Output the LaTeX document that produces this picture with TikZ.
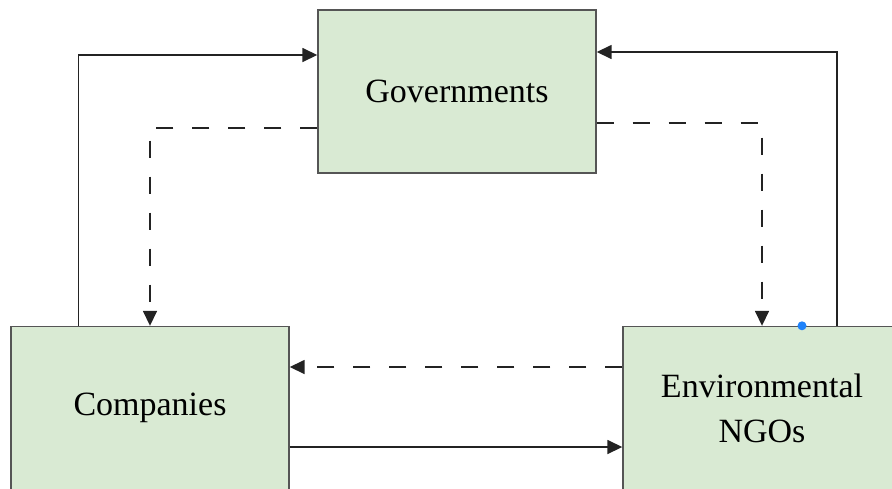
\documentclass[tikz,border=0pt]{standalone}
\usepackage{fontspec}
\setmainfont{Liberation Serif}
\usetikzlibrary{arrows.meta}
\definecolor{boxgreen}{RGB}{217,234,211}
\definecolor{boxline}{RGB}{85,85,85}
\definecolor{linkgray}{RGB}{35,35,35}
\definecolor{dotblue}{RGB}{30,130,250}

\tikzset{
    actor/.style={
        draw=boxline,
        fill=boxgreen,
        line width=1.4pt,
        minimum width=278pt,
        minimum height=163pt,
        align=center,
        font=\fontsize{34}{45}\selectfont
    },
    link/.style={
        draw=linkgray,
        line width=1.6pt,
        -{Triangle[length=15pt,width=14pt]}
    },
    weak link/.style={
        link,
        dash pattern=on 17pt off 19pt
    },
}

\begin{document}
\begin{tikzpicture}[x=1pt,y=-1pt]

% Page frame
\useasboundingbox (0,0) rectangle (892,488);
\clip (0,0) rectangle (892,488);

% The three actors
\node[actor] (gov)  at (457,91.5) {Governments};
\node[actor] (comp) at (150,408)  {Companies};
\node[actor] (ngo)  at (762,408)  {Environmental\\NGOs};

% Solid links
\draw[link] ([xshift=68]comp.north west) |- ([yshift=36.5]gov.west);
\draw[link] ([xshift=-65]ngo.north east) |- ([yshift=39.5]gov.east);
\draw[link] ([yshift=-39]comp.east) -- ([yshift=-39]ngo.west);

% Dashed links
\draw[weak link] ([yshift=-36.5]gov.west) -| (comp.north);
\draw[weak link] ([yshift=-31.5]gov.east) -| (ngo.north);
\draw[weak link] ([yshift=41]ngo.west) -- ([yshift=41]comp.east);

% Selection handle
\fill[dotblue] ([xshift=40]ngo.north) circle (4.5);

\end{tikzpicture}
\end{document}
